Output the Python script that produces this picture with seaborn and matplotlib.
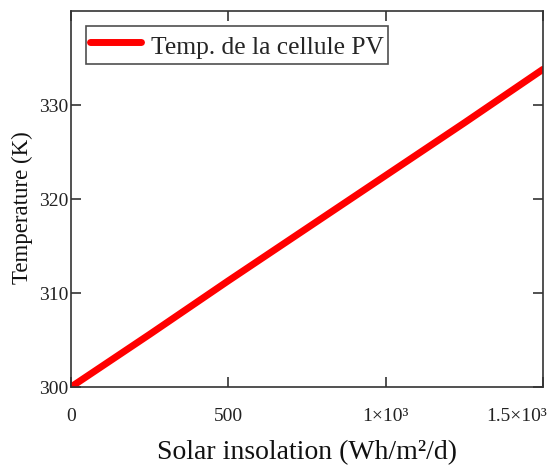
import matplotlib
matplotlib.use("Agg")
import matplotlib.pyplot as plt
import matplotlib.transforms as mtransforms
import seaborn as sns
import pandas as pd

insolation = [0, 250, 500, 750, 1000, 1250, 1500]
temperature = [300.0, 305.6, 311.3, 316.9, 322.5, 328.1, 333.8]
x_ticks = [0, 500, 1000, 1500]
x_ticklabels = ["0", "500", "1\u00d710\u00b3", "1.5\u00d710\u00b3"]
y_ticks = [300, 310, 320, 330]
series_label = "Temp. de la cellule PV"

sns.set_style("white")
plt.rcParams["font.family"] = ["Liberation Serif", "DejaVu Serif"]

df = pd.DataFrame({"x": insolation, "y": temperature})

fig = plt.figure(figsize=(5.47, 4.66), dpi=100)
ax = fig.add_axes([71/547, 1 - 387/466, (543-71)/547, (387-11)/466])
sns.lineplot(data=df, x="x", y="y", ax=ax, color="#ff0000", linewidth=5,
             label=series_label)
ax.set_xlim(0, 1500)
ax.set_ylim(300, 340)
ax.set_xticks(x_ticks)
ax.set_xticklabels(x_ticklabels)
ax.set_yticks(y_ticks)
ax.tick_params(direction="in", length=7, width=1.2, colors="#333333",
               labelcolor="#222222", labelsize=14, top=True, right=True,
               bottom=True, left=True)
ax.tick_params(axis="x", pad=15)
ax.tick_params(axis="y", pad=2)
# shift last x tick label so it ends at the figure edge like the reference
last = ax.get_xticklabels()[-1]
last.set_horizontalalignment("right")
last.set_transform(last.get_transform() +
                   mtransforms.ScaledTranslation(4/100, 0, fig.dpi_scale_trans))
for s in ax.spines.values():
    s.set_color("#333333")
    s.set_linewidth(1.2)
ax.set_xlabel("Solar insolation (Wh/m\u00b2/d)", fontsize=20, labelpad=11, color="#111111")
ax.set_ylabel("Temperature (K)", fontsize=16.5, color="#111111")
ax.yaxis.set_label_coords(-0.081, 0.477)
leg = ax.legend(loc="upper left", bbox_to_anchor=(0.032, 0.96), fontsize=18.4,
                frameon=True, fancybox=False, handlelength=2.0, handleheight=1.45,
                borderpad=0.15, handletextpad=0.4, borderaxespad=0)
leg.get_frame().set_edgecolor("#222222")
leg.get_frame().set_linewidth(1.2)
fig.savefig("out.png", dpi=100)
